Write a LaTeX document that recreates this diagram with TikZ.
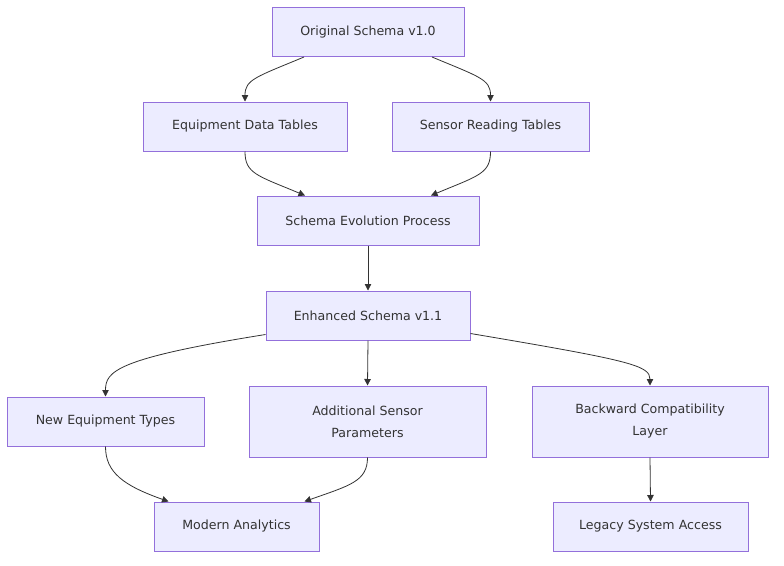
\documentclass[tikz,border=0pt]{standalone}
\usepackage{fontspec}
\setmainfont{DejaVu Sans}
\usetikzlibrary{arrows.meta}
\definecolor{nodefill}{HTML}{ECECFF}
\definecolor{nodeline}{HTML}{9370DB}
\definecolor{edgecol}{HTML}{333333}
\begin{document}
\begin{tikzpicture}[x=1pt,y=-1pt,
  box/.style={draw=nodeline, fill=nodefill, line width=1pt, minimum height=49pt,
    inner sep=0pt, text=edgecol, font=\fontsize{12.6}{22}\selectfont, align=center},
  edge/.style={draw=edgecol, line width=0.8pt, -{Triangle[length=6.5pt,width=6.5pt]}}]
\useasboundingbox (0,0) rectangle (784,565);
\node[box, minimum width=192pt] (o) at (368,32) {Original Schema v1.0};
\node[box, minimum width=204pt] (e) at (245,126.5) {Equipment Data Tables};
\node[box, minimum width=197pt] (s) at (490.5,126.5) {Sensor Reading Tables};
\node[box, minimum width=222pt] (v) at (368,220.5) {Schema Evolution Process};
\node[box, minimum width=204pt] (h) at (368,315.5) {Enhanced Schema v1.1};
\node[box, minimum width=197pt] (n) at (105.5,421.5) {New Equipment Types};
\node[box, minimum width=237pt, minimum height=71pt] (a) at (367.5,421.5) {Additional Sensor\\Parameters};
\node[box, minimum width=236pt, minimum height=71pt] (b) at (650,421.5) {Backward Compatibility\\Layer};
\node[box, minimum width=165pt] (m) at (236.5,526.5) {Modern Analytics};
\node[box, minimum width=195pt] (l) at (650.5,526.5) {Legacy System Access};

\draw[edge] ([xshift=-64pt]o.south) .. controls +(-48,20) and +(0,-22) .. (e.north);
\draw[edge] ([xshift=64pt]o.south) .. controls +(48,20) and +(0,-22) .. (s.north);
\draw[edge] (e.south) .. controls +(0,22) and +(-48,-20) .. ([xshift=-63pt]v.north);
\draw[edge] (s.south) .. controls +(0,22) and +(48,-20) .. ([xshift=63pt]v.north);
\draw[edge] (v.south) -- (h.north);
\draw[edge] ([yshift=6pt]h.south west) .. controls +(-150,24) and +(0,-25) .. (n.north);
\draw[edge] (h.south) -- (a.north);
\draw[edge] ([yshift=7pt]h.south east) .. controls +(160,27) and +(0,-20) .. (b.north);
\draw[edge] (n.south) .. controls +(0,26) and +(-45,-16) .. ([xshift=-68pt]m.north);
\draw[edge] (a.south) .. controls +(0,24) and +(45,-16) .. ([xshift=68pt]m.north);
\draw[edge] (b.south) -- (l.north);
\end{tikzpicture}
\end{document}
